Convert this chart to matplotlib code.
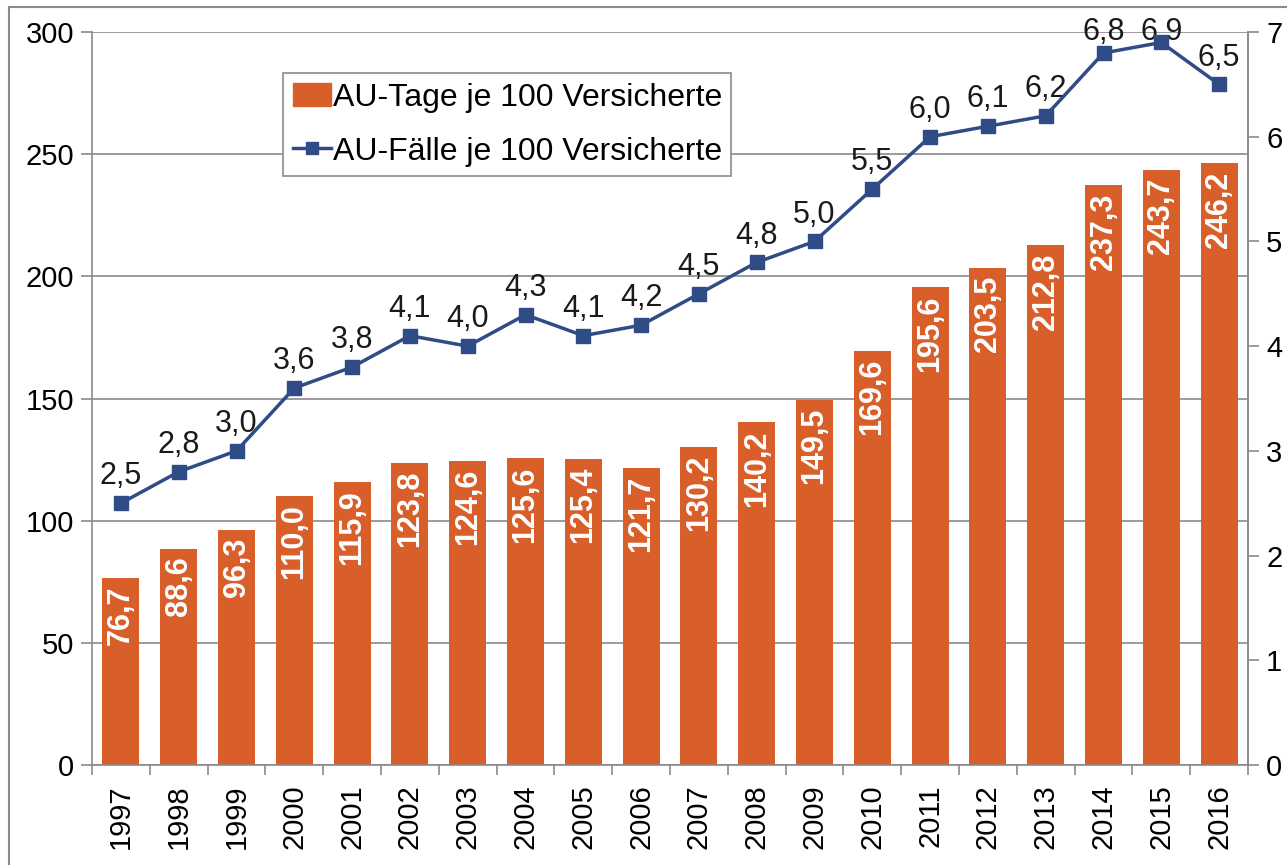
import numpy as np
import matplotlib.pyplot as plt
from matplotlib.lines import Line2D
from matplotlib.patches import Patch

plt.rcParams['font.family'] = ['Liberation Sans', 'DejaVu Sans']

years = ['1997', '1998', '1999', '2000', '2001', '2002', '2003', '2004', '2005', '2006',
         '2007', '2008', '2009', '2010', '2011', '2012', '2013', '2014', '2015', '2016']
au_tage = [76.7, 88.6, 96.3, 110.0, 115.9, 123.8, 124.6, 125.6, 125.4, 121.7,
           130.2, 140.2, 149.5, 169.6, 195.6, 203.5, 212.8, 237.3, 243.7, 246.2]
au_faelle = [2.5, 2.8, 3.0, 3.6, 3.8, 4.1, 4.0, 4.3, 4.1, 4.2,
             4.5, 4.8, 5.0, 5.5, 6.0, 6.1, 6.2, 6.8, 6.9, 6.5]

orange = '#D95F2A'
blue = '#2F4C86'
grey = '#8A8A8A'


def de(v):
    return f'{v:.1f}'.replace('.', ',')


fig = plt.figure(figsize=(12.87, 8.65), dpi=100)
ax = fig.add_axes([0.0715, 0.1156, 0.8982, 0.8474])
ax2 = ax.twinx()

x = np.arange(len(years))
ax.bar(x, au_tage, width=0.64, color=orange, zorder=2)
for xi, v in zip(x, au_tage):
    ax.text(xi, v - 3.3, de(v), rotation=90, ha='center', va='top',
            color='white', fontsize=22, fontweight='bold', zorder=3)

ax.set_xlim(-0.5, len(years) - 0.5)
ax.set_ylim(0, 300)
ax.set_yticks(range(0, 301, 50))
ax.yaxis.grid(True, color=grey, linewidth=1.2, zorder=0)
ax.set_axisbelow(True)
ax.set_xticks(x)
ax.set_xticklabels(years, rotation=90, fontsize=21)
ax.set_xticks(np.arange(-0.5, len(years)), minor=True)
ax.tick_params(axis='x', which='major', length=0, pad=14)
ax.tick_params(axis='x', which='minor', length=7, color=grey, width=1.2)
ax.tick_params(axis='y', labelsize=21, length=8, color=grey, width=1.2, pad=5)
ax.spines['top'].set_visible(False)
for s in ['left', 'bottom', 'right']:
    ax.spines[s].set_color(grey)
    ax.spines[s].set_linewidth(1.2)

ax2.plot(x, au_faelle, color=blue, linewidth=2.5, marker='s', markersize=10, zorder=4)
for xi, v in zip(x, au_faelle):
    ax2.text(xi, min(v + 0.18, 6.92), de(v), ha='center', va='baseline',
             fontsize=22, color='#1a1a1a')
ax2.set_ylim(0, 7)
ax2.set_yticks(range(0, 8))
ax2.tick_params(axis='y', labelsize=21, length=8, color=grey, width=1.2, pad=5)
for s in ['top', 'left', 'bottom']:
    ax2.spines[s].set_visible(False)
ax2.spines['right'].set_color(grey)
ax2.spines['right'].set_linewidth(1.2)

handles = [Patch(color=orange),
           Line2D([0], [0], color=blue, linewidth=2.5, marker='s', markersize=8)]
leg = ax2.legend(handles, ['AU-Tage je 100 Versicherte', 'AU-Fälle je 100 Versicherte'],
                 loc='upper left', bbox_to_anchor=(0.22, 0.9156),
                 bbox_transform=fig.transFigure, borderaxespad=0, fontsize=23,
                 fancybox=False, framealpha=1, edgecolor=grey, handlelength=1.2,
                 handletextpad=0.05, borderpad=0.3, labelspacing=0.75)
leg.get_frame().set_linewidth(1.2)

# outer frame (left and top only visible)
fig.add_artist(Line2D([0.007, 0.007], [0, 0.992], color=grey, linewidth=1.5))
fig.add_artist(Line2D([0.007, 1.0], [0.992, 0.992], color=grey, linewidth=1.5))

fig.savefig('out.png', dpi=100)
